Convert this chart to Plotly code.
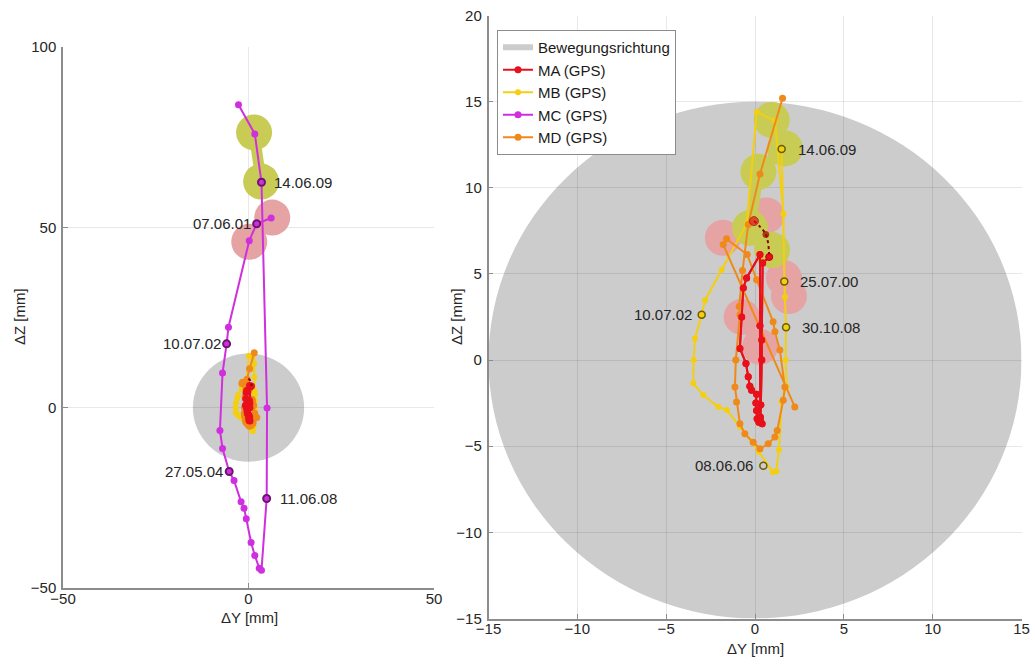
import plotly.graph_objects as go

# ---------------- data (ΔY, ΔZ in mm) ----------------
# MC (GPS) – large displacement, shown in left panel only
mc_y = [6.1, 2.2, 0.2, -5.4, -5.9, -7.0, -7.7, -7.0, -5.2, -3.9, -2.0, -1.2, -0.6,
        0.7, 1.7, 2.9, 3.5, 4.9, 5.0, 3.5, 1.7, -2.7]
mc_z = [52.6, 51.0, 46.3, 22.3, 17.7, 9.6, -6.3, -11.3, -17.7, -20.2, -26.1, -27.9,
        -30.8, -37.4, -41.0, -44.5, -45.1, -25.2, -0.1, 62.5, 75.9, 84.0]

# MA (GPS)
ma_y = [0.80, 0.43, 0.38, 0.38, 0.33, 0.30, 0.22, 0.40, 0.25, 0.12, 0.09, 0.05, 0.09,
        -0.19, -0.29, -0.38, -0.51, -0.85, -0.75, -0.66, -0.47, 0.28, 0.28, 0.30]
ma_z = [5.99, 5.64, 1.17, 0.00, -2.60, -3.45, -3.60, -3.70, -3.55, -3.40, -2.92, -2.49,
        -1.98, -1.75, -1.52, -0.97, -0.19, 0.68, 2.50, 4.18, 4.77, 6.13, 2.00, -3.30]
ma_arc_y = [-0.06, 0.61, 0.80]
ma_arc_z = [8.07, 7.29, 5.99]

# MB (GPS)
mb_y = [1.65, 1.60, 1.12, 0.10, -0.47, -1.87, -2.81, -3.00, -3.38, -3.45, -3.47, -2.91,
        -2.07, -1.59, -0.84, 0.20, 1.00, 1.20, 1.35, 1.50, 1.78, 1.72, 1.75, 1.68, 1.50]
mb_z = [4.57, 8.50, 13.90, 14.40, 7.90, 5.25, 3.48, 2.63, 1.26, 0.00, -1.35, -2.03,
        -2.71, -2.90, -3.87, -5.30, -6.50, -6.45, -5.20, -2.42, -1.55, 0.00, 1.91, 3.67, 12.25]

# MD (GPS)
md_y = [2.24, -1.79, -1.60, -0.44, 0.09, 1.02, 1.12, 1.40, 1.68, 1.59, 1.25, 1.12, 0.74,
        0.28, -0.10, -0.57, -0.85, -1.04, -1.13, -1.08, -0.85, -0.89, -0.70, -0.38, 0.28, 1.55]
md_z = [-2.72, 6.71, 7.04, 6.13, 4.67, 2.23, 1.65, 0.58, -1.56, -2.33, -4.08, -4.47, -4.86,
        -5.15, -4.77, -4.28, -3.69, -2.43, -1.56, 0.00, 2.63, 3.11, 5.20, 7.88, 10.80, 15.20]

# highlighted epochs (early = pink, late = olive), pairs separated by None
mc_pink_y, mc_pink_z = [6.4, 0.2], [52.7, 46.0]
mc_olive_y, mc_olive_z = [1.5, 3.4], [76.3, 62.7]
pink_y = [-1.81, 0.65, None, 1.63, 1.91, None, -0.75, 0.28]
pink_z = [7.10, 8.40, None, 4.76, 3.72, None, 2.51, 0.77]
olive_y = [0.94, 1.69, 0.19, -0.28, 0.96]
olive_z = [13.94, 12.29, 10.93, 7.67, 6.39]

# dated epochs
mc_lbl_text = ["14.06.09", "07.06.01", "10.07.02", "27.05.04", "11.06.08"]
mc_lbl_y = [3.5, 2.2, -5.9, -5.2, 4.9]
mc_lbl_z = [62.5, 51.0, 17.7, -17.7, -25.2]
mc_lbl_side = ["r", "l", "l", "l", "r"]

mb_lbl_text = ["14.06.09", "25.07.00", "30.10.08", "10.07.02", "08.06.06"]
mb_lbl_y = [1.50, 1.65, 1.75, -3.00, 0.47]
mb_lbl_z = [12.25, 4.57, 1.91, 2.63, -6.13]
mb_lbl_side = ["r", "r", "r", "l", "l"]

# axis ticks
left_xticks = [-50, 0, 50]
left_yticks = [-50, 0, 50, 100]
right_xticks = [-15, -10, -5, 0, 5, 10, 15]
right_yticks = [-15, -10, -5, 0, 5, 10, 15, 20]

# ---------------- styling ----------------
C_MA, C_MB, C_MC, C_MD = "#e8101a", "#f4cf10", "#cf2fdf", "#ef8a1a"
C_PINK, C_OLIVE, C_GRAY = "#e6a3a3", "#c8cc55", "#cccccc"
FONT = "Liberation Sans, Arial, sans-serif"
TXT = "#262626"
W, H = 1034, 658

fig = go.Figure()


def series(x, y, color, name, xa, ya, legend, size=7, width=2):
    fig.add_trace(go.Scatter(
        x=x, y=y, mode="lines+markers", name=name, xaxis=xa, yaxis=ya,
        line=dict(color=color, width=width),
        marker=dict(color=color, size=size),
        showlegend=legend, legendgroup=name))


def blobs(x, y, color, xa, ya):
    fig.add_trace(go.Scatter(
        x=x, y=y, mode="lines+markers", xaxis=xa, yaxis=ya,
        line=dict(color=color, width=11), marker=dict(color=color, size=36),
        connectgaps=False, showlegend=False, hoverinfo="skip"))


# legend entry for the grey movement area
fig.add_trace(go.Scatter(x=[None], y=[None], mode="none", fill="toself",
                         fillcolor=C_GRAY, name="Bewegungsrichtung",
                         xaxis="x2", yaxis="y2", showlegend=True))

# left panel
blobs(mc_pink_y, mc_pink_z, C_PINK, "x", "y")
blobs(mc_olive_y, mc_olive_z, C_OLIVE, "x", "y")
series(mb_y, mb_z, C_MB, "MB (GPS)", "x", "y", False, size=6)
series(md_y, md_z, C_MD, "MD (GPS)", "x", "y", False)
series(ma_y, ma_z, C_MA, "MA (GPS)", "x", "y", False)
fig.add_trace(go.Scatter(x=ma_arc_y, y=ma_arc_z, mode="lines", xaxis="x", yaxis="y",
                         line=dict(color="#9a0000", width=2, dash="dot", shape="spline"),
                         showlegend=False))
series(mc_y, mc_z, C_MC, "MC (GPS)", "x", "y", False)
fig.add_trace(go.Scatter(x=mc_lbl_y, y=mc_lbl_z, mode="markers", xaxis="x", yaxis="y",
                         marker=dict(symbol="circle-open", size=7, color="#6b1470",
                                     line=dict(width=2)),
                         showlegend=False))

# right panel
blobs(pink_y, pink_z, C_PINK, "x2", "y2")
blobs(olive_y, olive_z, C_OLIVE, "x2", "y2")
series(ma_y, ma_z, C_MA, "MA (GPS)", "x2", "y2", True)
series(mb_y, mb_z, C_MB, "MB (GPS)", "x2", "y2", True, size=6)
series([None], [None], C_MC, "MC (GPS)", "x2", "y2", True)
series(md_y, md_z, C_MD, "MD (GPS)", "x2", "y2", True)
# redraw MA on top of the other series
fig.add_trace(go.Scatter(x=ma_y, y=ma_z, mode="lines+markers", xaxis="x2", yaxis="y2",
                         line=dict(color=C_MA, width=2), marker=dict(color=C_MA, size=7),
                         showlegend=False))
fig.add_trace(go.Scatter(x=ma_arc_y, y=ma_arc_z, mode="lines+markers", xaxis="x2", yaxis="y2",
                         line=dict(color="#9a0000", width=2, dash="dot", shape="spline"),
                         marker=dict(color=["#e8101a", "#9a0000", "#e8101a"], size=[9, 6, 7]),
                         showlegend=False))
fig.add_trace(go.Scatter(x=mb_lbl_y, y=mb_lbl_z, mode="markers", xaxis="x2", yaxis="y2",
                         marker=dict(symbol="circle-open", size=7, color="#6e5a00",
                                     line=dict(width=1.5)),
                         showlegend=False))

# date labels
annotations = []
for txt, x, y, side in zip(mc_lbl_text, mc_lbl_y, mc_lbl_z, mc_lbl_side):
    annotations.append(dict(x=x, y=y, xref="x", yref="y", text=txt, showarrow=False,
                            xanchor="left" if side == "r" else "right",
                            xshift=11 if side == "r" else -4,
                            font=dict(size=15, color=TXT, family=FONT)))
for txt, x, y, side in zip(mb_lbl_text, mb_lbl_y, mb_lbl_z, mb_lbl_side):
    annotations.append(dict(x=x, y=y, xref="x2", yref="y2", text=txt, showarrow=False,
                            xanchor="left" if side == "r" else "right",
                            xshift=14 if side == "r" else -8,
                            font=dict(size=15, color=TXT, family=FONT)))


# axis titles
def title(text, px, py, angle=0):
    annotations.append(dict(x=px / W, y=1 - py / H, xref="paper", yref="paper", text=text,
                            showarrow=False, textangle=angle, xanchor="center", yanchor="middle",
                            font=dict(size=15, color=TXT, family=FONT)))


title("ΔY [mm]", 249, 617)
title("ΔZ [mm]", 20, 317, -90)
title("ΔY [mm]", 755, 648)
title("ΔZ [mm]", 457, 317, -90)

axis_common = dict(showline=True, linecolor="#8c8c8c", linewidth=1.5, ticks="inside",
                   ticklen=5, tickcolor="#8c8c8c", gridcolor="rgba(0,0,0,0.09)",
                   gridwidth=1, zeroline=False,
                   tickfont=dict(size=15, color=TXT, family=FONT),
                   mirror=False, fixedrange=True, automargin=False)

fig.update_layout(
    width=W, height=H, margin=dict(l=0, r=0, t=0, b=0, autoexpand=False),
    paper_bgcolor="white", plot_bgcolor="rgba(0,0,0,0)",
    font=dict(family=FONT, size=15, color=TXT),
    xaxis=dict(domain=[63 / W, 434 / W], range=[-50, 50], tickvals=left_xticks,
               anchor="y", ticklabelstandoff=-4, **axis_common),
    yaxis=dict(domain=[1 - 588 / H, 1 - 47 / H], range=[-50, 100], tickvals=left_yticks,
               anchor="x", ticklabelstandoff=2, **axis_common),
    xaxis2=dict(domain=[488.5 / W, 1021.5 / W], range=[-15, 15], tickvals=right_xticks,
                anchor="y2", ticklabelstandoff=-4, **axis_common),
    yaxis2=dict(domain=[1 - 618.5 / H, 1 - 15.6 / H], range=[-15, 20], tickvals=right_yticks,
                anchor="x2", ticklabelstandoff=2, **axis_common),
    shapes=[
        dict(type="circle", xref="x", yref="y", x0=-15, x1=15, y0=-15, y1=15,
             fillcolor=C_GRAY, line=dict(width=0), layer="below"),
        dict(type="circle", xref="x2", yref="y2", x0=-15, x1=15, y0=-15, y1=15,
             fillcolor=C_GRAY, line=dict(width=0), layer="below"),
    ],
    legend=dict(x=497 / W, y=1 - 30 / H, xanchor="left", yanchor="top",
                bgcolor="white", bordercolor="#8c8c8c", borderwidth=1,
                font=dict(size=15, color="#1a1a1a", family=FONT),
                tracegroupgap=0, itemwidth=30),
    annotations=annotations,
    showlegend=True,
)

fig.write_html("out.html")
